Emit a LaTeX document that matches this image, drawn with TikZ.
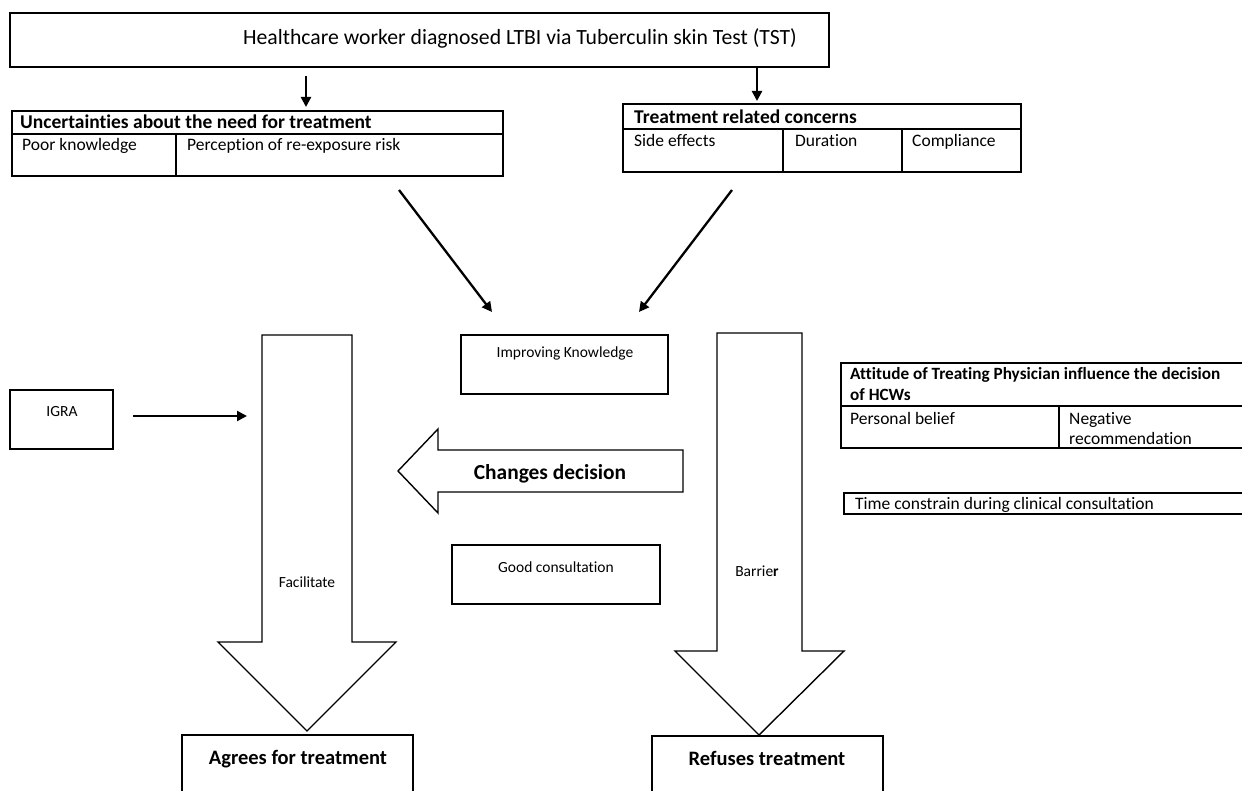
\documentclass[tikz,border=0pt]{standalone}
\usepackage{fontspec}
\setmainfont{Carlito}[Ligatures=NoCommon]
\usetikzlibrary{arrows.meta}
\begin{document}
\begin{tikzpicture}[x=1pt,y=-1pt,
  box/.style={draw, line width=1.5pt, inner sep=0pt, outer sep=0pt, anchor=north west},
  arr/.style={line width=2.3pt, -{Triangle[length=10pt,width=10pt]}},
  blk/.style={draw, line width=1.4pt, line join=miter},
  lbl/.style={inner sep=0pt, anchor=base west},
  ctr/.style={inner sep=0pt, anchor=base},
  ftop/.style={font=\fontsize{21.7}{25}\selectfont},
  fbody/.style={font=\fontsize{17.5}{20}\selectfont},
  fhead/.style={font=\fontsize{19.5}{22}\selectfont\bfseries},
  fhatt/.style={font=\fontsize{17.2}{20}\selectfont\bfseries},
  fsmall/.style={font=\fontsize{15.5}{18}\selectfont},
  fbig/.style={font=\fontsize{20.5}{24}\selectfont\bfseries},
  fchg/.style={font=\fontsize{21.4}{25}\selectfont\bfseries}
]
\clip (0,0) rectangle (1242,791);
\fill[white] (0,0) rectangle (1242,791);

% top box
\node[box, line width=1.8pt, minimum width=819pt, minimum height=54pt] (top) at (10,13) {};
\node[ctr, ftop] (toptxt) at (520,45) {Healthcare worker diagnosed LTBI via Tuberculin skin Test (TST)};

% uncertainties box
\node[box, minimum width=491pt, minimum height=65pt] (unc) at (12,111) {};
\draw[line width=1.5pt] (unc.west |- 0,134) -- (unc.east |- 0,134);
\draw[line width=1.5pt] (176,134) -- (176,176);
\node[lbl, fhead] (unch) at (20,129) {Uncertainties about the need for treatment};
\node[lbl, fbody] (poor) at (22,151) {Poor knowledge};
\node[lbl, fbody] (perc) at (187,151) {Perception of re-exposure risk};

% treatment box
\node[box, minimum width=398pt, minimum height=68pt] (trt) at (623,104) {};
\draw[line width=1.5pt] (trt.west |- 0,129) -- (trt.east |- 0,129);
\draw[line width=1.5pt] (783,129) -- (783,172);
\draw[line width=1.5pt] (902,129) -- (902,172);
\node[lbl, fhead] (trth) at (634,124) {Treatment related concerns};
\node[lbl, fbody] (side) at (634,147) {Side effects};
\node[lbl, fbody] (dur) at (795,147) {Duration};
\node[lbl, fbody] (comp) at (912,147) {Compliance};

% attitude box
\node[box, minimum width=420pt, minimum height=85pt] (att) at (841,363) {};
\draw[line width=1.5pt] (att.west |- 0,406) -- (att.east |- 0,406);
\draw[line width=1.5pt] (1059,406) -- (1059,448);
\node[lbl, fhatt] (att1) at (850,380) {Attitude of Treating Physician influence the decision};
\node[lbl, fhatt] (att2) at (850,400) {of HCWs};
\node[lbl, fbody] (pers) at (850,424) {Personal belief};
\node[lbl, fbody] (neg1) at (1069,424) {Negative};
\node[lbl, fbody] (neg2) at (1069,444) {recommendation};

% time box
\node[box, minimum width=420pt, minimum height=21pt] (time) at (844,493) {};
\node[lbl, fbody] (timetxt) at (855,509) {Time constrain during clinical consultation};

% small boxes
\node[box, minimum width=103pt, minimum height=59pt] (igra) at (10,390) {};
\node[ctr, fsmall] (igratxt) at (62,417) {IGRA};
\node[box, minimum width=207pt, minimum height=59pt] (impr) at (461,335) {};
\node[ctr, fsmall] (imprtxt) at (565,358) {Improving Knowledge};
\node[box, minimum width=208pt, minimum height=59pt] (good) at (452,545) {};
\node[ctr, fsmall] (goodtxt) at (556,572) {Good consultation};

% outcome boxes
\node[box, minimum width=231pt, minimum height=80pt] (agree) at (182,735) {};
\node[ctr, fbig] (agreetxt) at (298,764) {Agrees for treatment};
\node[box, minimum width=231pt, minimum height=80pt] (refuse) at (652,736) {};
\node[ctr, fbig] (refusetxt) at (767,765) {Refuses treatment};

% block arrows
\draw[blk] (262,335) -- (352,335) -- (352,642) -- (396,642) -- (307,731) -- (218,642) -- (262,642) -- cycle;
\node[ctr, fsmall] (facil) at (307,587) {Facilitate};
\draw[blk] (717,333) -- (802,333) -- (802,651) -- (844,651) -- (759,735) -- (675,651) -- (717,651) -- cycle;
\node[ctr, fsmall] (barrier) at (757,576) {Barrie\textbf{r}};
\draw[blk] (683,450) -- (438,450) -- (438,429) -- (398,471) -- (438,513) -- (438,492) -- (683,492) -- cycle;
\node[ctr, fchg] (chg) at (550,479) {Changes decision};

% connectors
\coordinate (c1s) at (306,76);  \coordinate (c1e) at (306,107);
\coordinate (c2s) at (757,68);  \coordinate (c2e) at (757,101);
\coordinate (c3s) at (399,190); \coordinate (c3e) at (492,312);
\coordinate (c4s) at (732,190); \coordinate (c4e) at (639,312);
\coordinate (c5s) at (133,416); \coordinate (c5e) at (247,416);
\draw[arr] (c1s) -- (c1e);
\draw[arr] (c2s) -- (c2e);
\draw[arr] (c3s) -- (c3e);
\draw[arr] (c4s) -- (c4e);
\draw[arr] (c5s) -- (c5e);
\end{tikzpicture}
\end{document}
